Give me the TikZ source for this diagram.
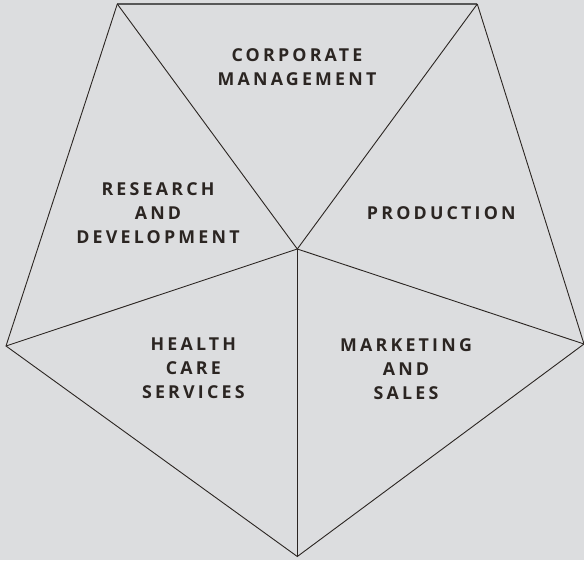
\documentclass[tikz,border=0pt]{standalone}
\usepackage{fontspec}
\newfontfamily\unitfont{Open Sans}[LetterSpace=18]
\definecolor{paper}{RGB}{220,221,223}
\definecolor{ink}{RGB}{43,37,34}
\definecolor{rimgray}{RGB}{88,88,88}
\tikzset{
  unit/.style={font=\unitfont\bfseries\fontsize{17.8}{24}\selectfont, text=ink, align=center, inner sep=0pt},
  edge/.style={draw=ink, line width=0.9pt, line join=miter},
  rim/.style={draw=rimgray, line width=1.4pt}
}

\begin{document}
\begin{tikzpicture}[x=1pt, y=-1pt] % {{{
\fill[paper] (0,0) rectangle (584,560);
\useasboundingbox (0,0) rectangle (584,560);
% Corners {{{
\coordinate (tl) at (117.3,4);
\coordinate (tr) at (477.3,4);
\coordinate (rt) at (584,344);
\coordinate (bot) at (297.3,556.5);
\coordinate (lft) at (6,346);
\coordinate (ctr) at (297.3,249);
% }}}
% Pentagon and spokes {{{
\draw[rim] (tl) -- (tr);
\draw[edge] (tr) -- (rt) -- (bot) -- (lft) -- (tl);
\draw[edge] (tl) -- (ctr);
\draw[edge] (tr) -- (ctr);
\draw[edge] (rt) -- (ctr);
\draw[edge] (bot) -- (ctr);
\draw[edge] (lft) -- (ctr);
% }}}
% Units {{{
\node[unit] (corp) at (297,66.7) {CORPORATE\\MANAGEMENT};
\node[unit] (rnd) at (158,213.5) {RESEARCH\\AND\\DEVELOPMENT};
\node[unit] (prod) at (441.3,213.3) {PRODUCTION};
\node[unit] (care) at (193.3,368.7) {HEALTH\\CARE\\SERVICES};
\node[unit] (mkt) at (406,368.7) {MARKETING\\AND\\SALES};
% }}}
\end{tikzpicture} % }}}
\end{document}
